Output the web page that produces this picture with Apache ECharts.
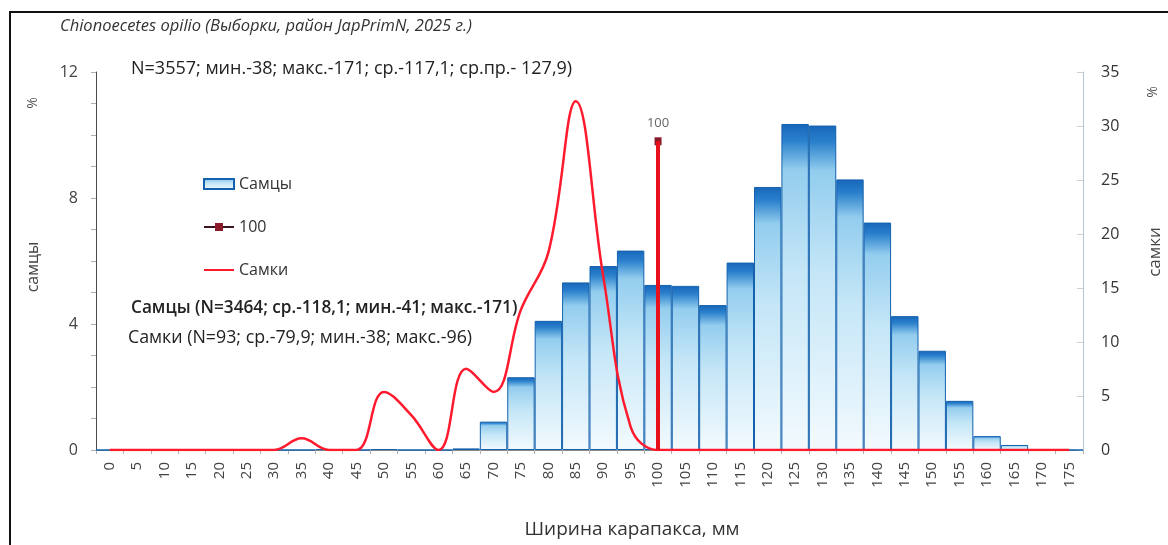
<!DOCTYPE html>
<html>
<head>
<meta charset="utf-8">
<script src="https://cdn.jsdelivr.net/npm/echarts@6/dist/echarts.min.js"></script>
<style>
  html, body { margin: 0; padding: 0; background: #fff; }
  #chart { width: 1168px; height: 545px; }
</style>
</head>
<body>
<div id="chart"></div>
<script>
// Carapace width classes, mm
const categories = ['0','5','10','15','20','25','30','35','40','45','50','55','60','65','70','75','80','85',
  '90','95','100','105','110','115','120','125','130','135','140','145','150','155','160','165','170','175'];

// Males, % per class (left axis)
const males = [0, 0, 0, 0, 0, 0, 0, 0, 0.03, 0, 0.03, 0, 0, 0.05, 0.90, 2.31, 4.10, 5.32,
  5.84, 6.33, 5.24, 5.21, 4.60, 5.95, 8.35, 10.35, 10.30, 8.59, 7.22, 4.25, 3.15, 1.56, 0.44, 0.16, 0.03, 0];

// Females, % per class (right axis)
const females = [0, 0, 0, 0, 0, 0, 0, 1.08, 0, 0, 5.38, 3.23, 0, 7.53, 5.38, 13.0, 18.3, 32.3,
  16.1, 2.15, 0, 0, 0, 0, 0, 0, 0, 0, 0, 0, 0, 0, 0, 0, 0, 0];

// Reference mark at 100 mm
const markCategory = '100';
const markValue = 9.8;

const leftTicks = { min: 0, max: 12, interval: 4 };
const rightTicks = { min: 0, max: 35, interval: 5 };

const FONT = "'Open Sans', 'Noto Sans', sans-serif";

const markData = categories.map(c => (c === markCategory ? markValue : '-'));

const chart = echarts.init(document.getElementById('chart'), null, { renderer: 'canvas' });

const barGradient = new echarts.graphic.LinearGradient(0, 0, 0, 1, [
  { offset: 0, color: '#1866ba' },
  { offset: 0.05, color: '#2a80cc' },
  { offset: 0.14, color: '#93cdee' },
  { offset: 0.45, color: '#c4e6f7' },
  { offset: 1, color: '#f3fafe' }
]);

chart.setOption({
  animation: false,
  backgroundColor: '#ffffff',
  textStyle: { fontFamily: FONT },
  grid: { left: 96, right: 85, top: 72, bottom: 95 },
  legend: {
    orient: 'vertical',
    left: 198,
    top: 171,
    itemGap: 27,
    itemWidth: 30,
    itemHeight: 10,
    textStyle: { fontSize: 16, color: '#333', fontFamily: FONT },
    data: [
      { name: 'Самцы', icon: 'rect' },
      { name: '100' },
      { name: 'Самки', itemStyle: { opacity: 0 } }
    ]
  },
  xAxis: {
    type: 'category',
    data: categories,
    boundaryGap: true,
    axisLine: { lineStyle: { color: '#8a8a8a', width: 1 } },
    axisTick: { show: true, length: 4, lineStyle: { color: '#b0b0b0' } },
    axisLabel: { rotate: 90, interval: 0, fontSize: 15, color: '#444', margin: 12, fontFamily: FONT },
    splitLine: { show: false }
  },
  yAxis: [
    {
      type: 'value',
      min: leftTicks.min, max: leftTicks.max, interval: leftTicks.interval,
      axisLine: { show: true, lineStyle: { color: '#4a4a4a', width: 1 } },
      axisTick: { show: true, length: 5, lineStyle: { color: '#b0b0b0' } },
      minorTick: { show: true, splitNumber: 4, length: 5, lineStyle: { color: '#b0b0b0' } },
      axisLabel: { fontSize: 16, color: '#444', margin: 18, fontFamily: FONT },
      splitLine: { show: false }
    },
    {
      type: 'value',
      min: rightTicks.min, max: rightTicks.max, interval: rightTicks.interval,
      axisLine: { show: true, lineStyle: { color: '#b4c6d8', width: 1 } },
      axisTick: { show: true, inside: true, length: 6, lineStyle: { color: '#d0d0d0' } },
      axisLabel: { fontSize: 16, color: '#333', margin: 18, fontFamily: FONT },
      splitLine: { show: false }
    }
  ],
  series: [
    {
      name: 'Самцы',
      type: 'bar',
      yAxisIndex: 0,
      data: males,
      barWidth: '100%',
      barGap: '-100%',
      itemStyle: { color: barGradient, borderColor: '#1462ae', borderWidth: 1 },
      z: 2
    },
    {
      name: 'Самки',
      type: 'line',
      yAxisIndex: 1,
      data: females,
      smooth: 0.4,
      symbol: 'none',
      lineStyle: { color: '#ff1a2e', width: 2.5 },
      itemStyle: { color: '#ff1a2e' },
      z: 3
    },
    {
      name: '100',
      type: 'line',
      yAxisIndex: 0,
      data: markData,
      symbol: 'rect',
      symbolSize: [7, 8],
      lineStyle: { color: '#3a1520', width: 2 },
      itemStyle: { color: '#8b1a2a' },
      label: {
        show: true, position: 'top', distance: 8,
        formatter: '{b}', fontSize: 13, color: '#666', fontFamily: FONT
      },
      markLine: {
        silent: true,
        symbol: 'none',
        label: { show: false },
        lineStyle: { color: '#e8101a', width: 4, type: 'solid' },
        data: [[
          { coord: [markCategory, 0] },
          { coord: [markCategory, markValue] }
        ]]
      },
      z: 4
    }
  ],
  graphic: [
    // outer frame
    {
      type: 'polyline', silent: true,
      shape: { points: [[10, 545], [10, 12], [1168, 12]] },
      style: { stroke: '#111', lineWidth: 2, fill: null }
    },
    {
      type: 'text', left: 60, top: 18,
      style: { text: 'Chionoecetes opilio (Выборки, район JapPrimN, 2025 г.)', font: 'italic 16.5px ' + FONT, fill: '#333' }
    },
    {
      type: 'text', left: 131, top: 60,
      style: { text: 'N=3557; мин.-38; макс.-171; ср.-117,1; ср.пр.- 127,9)', font: '18px ' + FONT, fill: '#222' }
    },
    {
      type: 'text', left: 131, top: 300,
      style: { text: 'Самцы (N=3464; ср.-118,1; мин.-41; макс.-171)', font: '600 17.2px ' + FONT, fill: '#222' }
    },
    {
      type: 'text', left: 128, top: 329,
      style: { text: 'Самки (N=93; ср.-79,9; мин.-38; макс.-96)', font: '17.8px ' + FONT, fill: '#222' }
    },
    {
      type: 'text', x: 33, y: 267, rotation: Math.PI / 2,
      style: { text: 'самцы', font: '16px ' + FONT, fill: '#444', align: 'center', verticalAlign: 'middle' }
    },
    {
      type: 'text', x: 33, y: 103, rotation: Math.PI / 2,
      style: { text: '%', font: '14px ' + FONT, fill: '#555', align: 'center', verticalAlign: 'middle' }
    },
    {
      type: 'text', x: 1155, y: 252, rotation: Math.PI / 2,
      style: { text: 'самки', font: '17px ' + FONT, fill: '#444', align: 'center', verticalAlign: 'middle' }
    },
    {
      type: 'text', x: 1153, y: 92, rotation: Math.PI / 2,
      style: { text: '%', font: '14px ' + FONT, fill: '#555', align: 'center', verticalAlign: 'middle' }
    },
    {
      type: 'text', x: 632, y: 530,
      style: { text: 'Ширина карапакса, мм', font: '19px ' + FONT, fill: '#333', align: 'center', verticalAlign: 'middle' }
    }
  ]
});
</script>
</body>
</html>
